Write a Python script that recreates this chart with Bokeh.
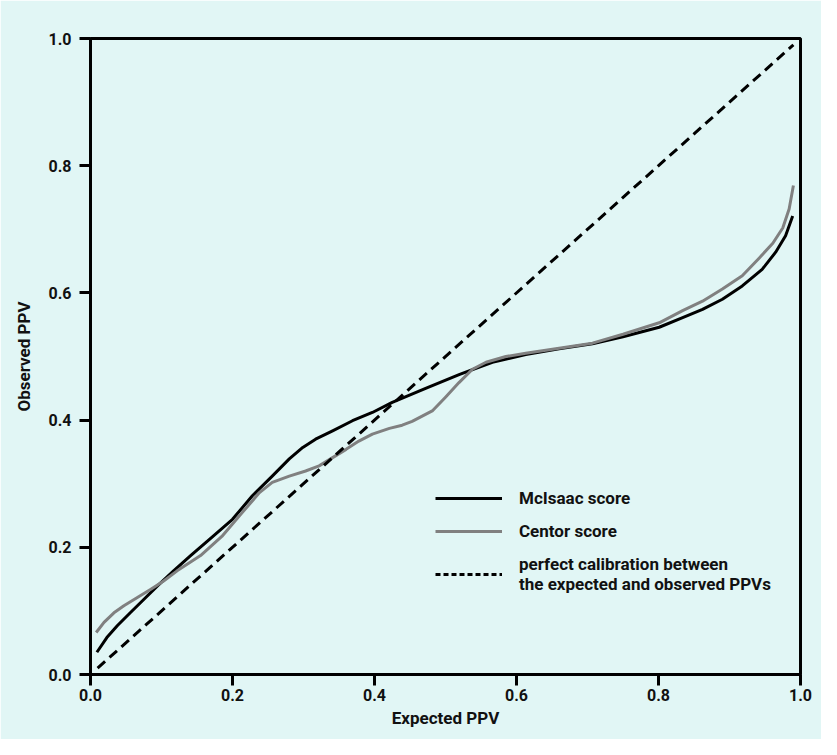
from bokeh.plotting import figure
from bokeh.models import Range1d, Legend, LegendItem, FixedTicker
from bokeh.embed import file_html
from bokeh.resources import INLINE

# ---- data ----
mcisaac_x = [0.009, 0.023, 0.038, 0.056, 0.075, 0.094, 0.117, 0.141, 0.170, 0.200, 0.228, 0.256,
             0.280, 0.299, 0.317, 0.341, 0.369, 0.397, 0.425, 0.472, 0.520, 0.566, 0.613, 0.660,
             0.707, 0.750, 0.801, 0.834, 0.862, 0.890, 0.918, 0.946, 0.965, 0.979, 0.989]
mcisaac_y = [0.035, 0.058, 0.077, 0.097, 0.118, 0.139, 0.163, 0.187, 0.215, 0.244, 0.281, 0.312,
             0.339, 0.357, 0.370, 0.383, 0.399, 0.412, 0.428, 0.450, 0.472, 0.491, 0.503, 0.512,
             0.520, 0.531, 0.546, 0.561, 0.574, 0.590, 0.611, 0.637, 0.664, 0.690, 0.721]

centor_x = [0.008, 0.019, 0.033, 0.047, 0.066, 0.085, 0.103, 0.122, 0.155, 0.185, 0.214, 0.238,
            0.256, 0.280, 0.303, 0.322, 0.341, 0.360, 0.378, 0.397, 0.421, 0.439, 0.453, 0.482,
            0.500, 0.519, 0.538, 0.557, 0.585, 0.613, 0.660, 0.707, 0.750, 0.801, 0.834, 0.862,
            0.890, 0.918, 0.942, 0.961, 0.975, 0.984, 0.990]
centor_y = [0.066, 0.082, 0.097, 0.108, 0.121, 0.134, 0.147, 0.163, 0.187, 0.217, 0.255, 0.286,
            0.302, 0.312, 0.320, 0.328, 0.341, 0.354, 0.367, 0.378, 0.387, 0.392, 0.398, 0.415,
            0.436, 0.459, 0.480, 0.491, 0.500, 0.505, 0.513, 0.521, 0.535, 0.553, 0.572, 0.587,
            0.606, 0.627, 0.655, 0.678, 0.702, 0.732, 0.769]

diag_x = [0.01, 0.99]
diag_y = [0.01, 0.99]

ticks = [0.0, 0.2, 0.4, 0.6, 0.8, 1.0]
tick_labels = {0.0: "0.0", 0.2: "0.2", 0.4: "0.4", 0.6: "0.6", 0.8: "0.8", 1.0: "1.0"}

series_labels = ["McIsaac score", "Centor score",
                 "perfect calibration between\nthe expected and observed PPVs"]

BG = "#e1f6f5"
FONT = "Roboto"
TXT = "#111111"

p = figure(width=821, height=739, output_backend="svg", toolbar_location=None,
           x_range=Range1d(0, 1), y_range=Range1d(0, 1),
           min_border_left=90, min_border_right=21, min_border_top=38, min_border_bottom=65,
           background_fill_color=BG, border_fill_color=BG)
p.grid.visible = False
p.outline_line_color = "black"
p.outline_line_width = 3

r1 = p.line(mcisaac_x, mcisaac_y, line_color="black", line_width=3, line_join="round")
r2 = p.line(centor_x, centor_y, line_color="#808080", line_width=3, line_join="round")
p.line(diag_x, diag_y, line_color="black", line_width=3, line_dash="10 6")
# legend-only sample of the dashed style (finer dashes, as in the reference key)
r3 = p.line(x=[float("nan")], y=[float("nan")], line_color="black", line_width=3, line_dash="5 3")

for ax in (p.xaxis[0], p.yaxis[0]):
    ax.ticker = FixedTicker(ticks=ticks)
    ax.major_label_overrides = tick_labels
    ax.axis_line_width = 3
    ax.axis_line_color = "black"
    ax.major_tick_line_width = 3
    ax.major_tick_in = 0
    ax.major_tick_out = 11
    ax.minor_tick_line_color = None
    ax.major_label_text_font = FONT
    ax.major_label_text_font_style = "bold"
    ax.major_label_text_font_size = "16px"
    ax.major_label_text_color = TXT
    ax.axis_label_text_font = FONT
    ax.axis_label_text_font_style = "bold"
    ax.axis_label_text_font_size = "17px"
    ax.axis_label_text_color = TXT

p.xaxis.axis_label = "Expected PPV"
p.yaxis.axis_label = "Observed PPV"
p.xaxis.major_label_standoff = 3
p.yaxis.major_label_standoff = 8
p.xaxis.axis_label_standoff = 4
p.yaxis.axis_label_standoff = 12

legend = Legend(items=[LegendItem(label=series_labels[0], renderers=[r1]),
                       LegendItem(label=series_labels[1], renderers=[r2]),
                       LegendItem(label=series_labels[2], renderers=[r3])],
                location=(345, 80), orientation="vertical",
                background_fill_alpha=0, border_line_color=None,
                glyph_width=67, glyph_height=20, label_standoff=17, spacing=13,
                padding=0, margin=0,
                label_text_font=FONT, label_text_font_style="bold",
                label_text_font_size="17px", label_text_color=TXT,
                label_text_line_height=1.1)
p.add_layout(legend, "center")

open("out.html", "w").write(file_html(p, INLINE))
